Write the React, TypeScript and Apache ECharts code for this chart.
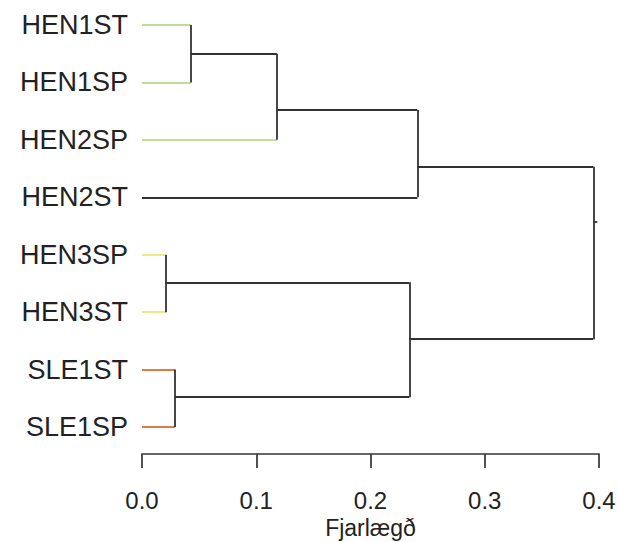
import React, { useEffect, useRef } from "react";
import * as echarts from "echarts";

// Leaves, top to bottom
const leaves = ["HEN1ST", "HEN1SP", "HEN2SP", "HEN2ST", "HEN3SP", "HEN3ST", "SLE1ST", "SLE1SP"];
const leafColors = ["#bcdc98", "#bcdc98", "#bcdc98", "#333333", "#eaea7a", "#eaea7a", "#e27a45", "#e27a45"];

// Merges: negative = leaf index (-(i+1)), positive = earlier merge number (1-based)
const mergeLeft = [-1, -5, -7, 1, 2, 4, 6];
const mergeRight = [-2, -6, -8, -3, 3, -4, 5];
const mergeHeight = [0.043, 0.021, 0.029, 0.118, 0.234, 0.241, 0.395];
const mergePos = [0.5, 4.48, 6.48, 1.48, 5.47, 2.47, 3.43];
const rootStubEnd = 0.3985;

const xTicks = [0, 0.1, 0.2, 0.3, 0.4];
const xTitle = "Fjarlægð";

const LINE = "#333333";

function buildSegments() {
  const segs: any[] = [];
  const nodeInfo = (ref: number) => {
    if (ref < 0) {
      const i = -ref - 1;
      return { h: 0, y: i, color: leafColors[i] };
    }
    return { h: mergeHeight[ref - 1], y: mergePos[ref - 1], color: LINE };
  };
  for (let m = 0; m < mergeHeight.length; m++) {
    const h = mergeHeight[m];
    const a = nodeInfo(mergeLeft[m]);
    const b = nodeInfo(mergeRight[m]);
    segs.push({ coords: [[a.h, a.y], [h, a.y]], lineStyle: { color: a.color } });
    segs.push({ coords: [[b.h, b.y], [h, b.y]], lineStyle: { color: b.color } });
    segs.push({ coords: [[h, a.y], [h, b.y]], lineStyle: { color: LINE } });
  }
  const last = mergeHeight.length - 1;
  segs.push({
    coords: [[mergeHeight[last], mergePos[last]], [rootStubEnd, mergePos[last]]],
    lineStyle: { color: LINE },
  });
  return segs;
}

export default function App() {
  const ref = useRef<HTMLDivElement>(null);
  useEffect(() => {
    if (!ref.current) return;
    document.body.style.margin = "0";
    const chart = echarts.init(ref.current, null, { renderer: "svg" });
    chart.setOption({
      animation: false,
      backgroundColor: "#ffffff",
      grid: { left: 142, right: 19, top: 25, height: 402, containLabel: false, outerBoundsMode: "none" },
      xAxis: {
        type: "value",
        position: "bottom",
        min: 0,
        max: 0.4,
        interval: 0.1,
        offset: 27,
        splitLine: { show: false },
        axisLine: { show: true, onZero: false, lineStyle: { color: LINE, width: 1.7 } },
        axisTick: { show: true, length: 14, lineStyle: { color: LINE, width: 1.7 } },
        axisLabel: {
          margin: 34,
          fontFamily: "Liberation Sans",
          fontSize: 24,
          color: "#222",
          formatter: (v: number) => {
            const t = xTicks.find((x) => Math.abs(x - v) < 1e-9);
            return t === undefined ? "" : t.toFixed(1);
          },
        },
        name: xTitle,
        nameLocation: "middle",
        nameGap: 58,
        nameTextStyle: { fontFamily: "Liberation Sans", fontSize: 23, color: "#222" },
      },
      yAxis: [
        {
          type: "category",
          data: leaves,
          inverse: true,
          boundaryGap: false,
          axisLine: { show: false },
          axisTick: { show: false },
          splitLine: { show: false },
          axisLabel: {
            margin: 14,
            fontFamily: "Liberation Sans",
            fontSize: 27,
            color: "#222",
          },
        },
        {
          type: "value",
          min: 0,
          max: leaves.length - 1,
          inverse: true,
          show: false,
          splitLine: { show: false },
        },
      ],
      series: [
        {
          type: "lines",
          coordinateSystem: "cartesian2d",
          xAxisIndex: 0,
          yAxisIndex: 1,
          silent: true,
          lineStyle: { width: 1.8, opacity: 1, curveness: 0 },
          data: buildSegments(),
        },
      ],
    });
    return () => chart.dispose();
  }, []);
  return <div ref={ref} style={{ width: 618, height: 542 }} />;
}
